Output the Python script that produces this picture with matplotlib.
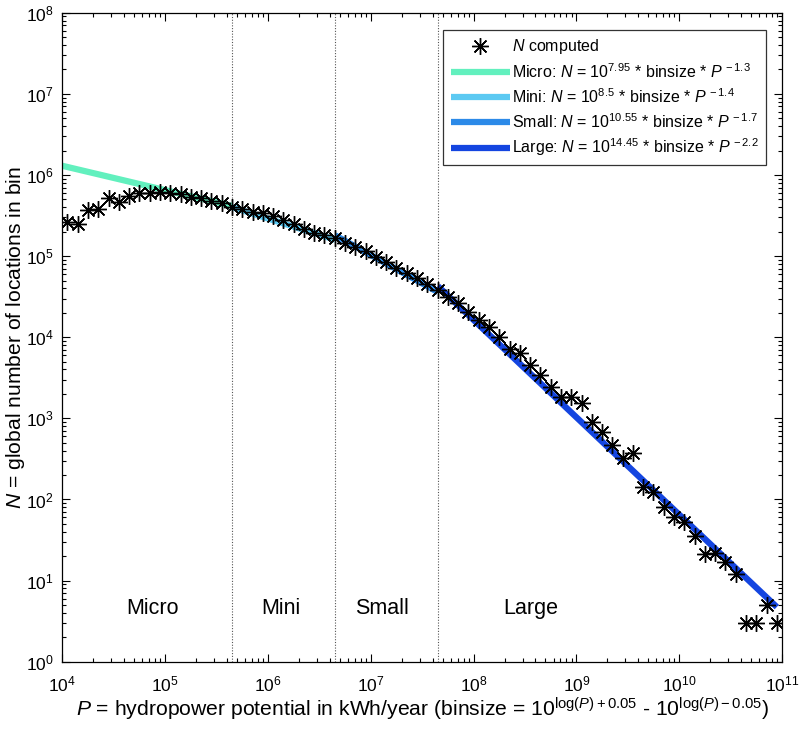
import numpy as np
import matplotlib
matplotlib.use("Agg")
import matplotlib.pyplot as plt
from matplotlib.ticker import LogLocator, NullFormatter

plt.rcParams['font.family'] = ['Liberation Sans', 'DejaVu Sans']
plt.rcParams['mathtext.fontset'] = 'custom'
plt.rcParams['mathtext.rm'] = 'Liberation Sans'
plt.rcParams['mathtext.it'] = 'Liberation Sans:italic'
plt.rcParams['mathtext.bf'] = 'Liberation Sans:bold'

# ---- data ----
logP = [4.05, 4.15, 4.25, 4.35, 4.45, 4.55, 4.65, 4.75, 4.85, 4.95,
        5.05, 5.15, 5.25, 5.35, 5.45, 5.55, 5.65, 5.75, 5.85, 5.95,
        6.05, 6.15, 6.25, 6.35, 6.45, 6.55, 6.65, 6.75, 6.85, 6.95,
        7.05, 7.15, 7.25, 7.35, 7.45, 7.55, 7.65, 7.75, 7.85, 7.95,
        8.05, 8.15, 8.25, 8.35, 8.45, 8.55, 8.65, 8.75, 8.85, 8.95,
        9.05, 9.15, 9.25, 9.35, 9.45, 9.55, 9.65, 9.75, 9.85, 9.95,
        10.05, 10.15, 10.25, 10.35, 10.45, 10.55, 10.65, 10.75, 10.85, 10.95]
N_computed = [263000, 251000, 372000, 376000, 525000, 468000, 550000, 603000, 596000, 617000,
              603000, 582000, 537000, 513000, 479000, 447000, 407000, 385000, 352000, 335000,
              309000, 282000, 251000, 214000, 195000, 182000, 166000, 144000, 130000, 114000,
              98000, 85000, 71600, 62400, 53100, 45700, 38000, 31600, 26300, 20400,
              16200, 13500, 10100, 7240, 6310, 4530, 3410, 2450, 1840, 1840,
              1530, 906, 682, 468, 320, 369, 143, 124, 81, 61,
              53, 35, 21, 22, 17, 12, 3, 3, 5, 3]

# fitted power laws: N = 10^a * binsize * P^b
fit_names = ['Micro', 'Mini', 'Small', 'Large']
fit_a = [7.95, 8.5, 10.55, 14.45]
fit_b = [-1.3, -1.4, -1.7, -2.2]
fit_a_txt = ['7.95', '8.5', '10.55', '14.45']
fit_b_txt = ['-1.3', '-1.4', '-1.7', '-2.2']
fit_ranges = [(1e4, 4.5e5), (4.5e5, 4.5e6), (4.5e6, 4.5e7), (4.5e7, 8.9e10)]
fit_colors = ['#62F0BE', '#5CC9F2', '#2C8AE8', '#1445E0']

class_bounds = [4.5e5, 4.5e6, 4.5e7]
class_labels = ['Micro', 'Mini', 'Small', 'Large']
class_label_x = [7.6e4, 1.35e6, 1.3e7, 3.6e8]

fig = plt.figure(figsize=(8.0, 7.31), dpi=100)
ax = fig.add_axes([0.0779, 0.0948, 0.8996, 0.8878])

P = 10 ** np.array(logP)

lines = []
for name, a, b, at, bt, (p0, p1), c in zip(fit_names, fit_a, fit_b, fit_a_txt, fit_b_txt, fit_ranges, fit_colors):
    pp = np.logspace(np.log10(p0), np.log10(p1), 100)
    binsize = 10 ** (np.log10(pp) + 0.05) - 10 ** (np.log10(pp) - 0.05)
    nn = 10 ** a * binsize * pp ** b
    lab = name + r': $\mathit{N}$ = 10$^{' + at + r'}$ * binsize * $\mathit{P}^{\,' + bt + r'}$'
    ln, = ax.plot(pp, nn, color=c, lw=4.5, solid_capstyle='butt', label=lab, zorder=2)
    lines.append(ln)

sc, = ax.plot(P, N_computed, linestyle='none', marker=(8, 2, 0), markersize=12,
              markeredgewidth=1.0, color='black', label=r'$\mathit{N}$ computed', zorder=3)

for xb in class_bounds:
    ax.axvline(xb, color='#555555', lw=0.8, ls=(0, (1, 1.5)), zorder=1)

for t, xx in zip(class_labels, class_label_x):
    ax.text(xx, 4.5, t, ha='center', va='center', fontsize=15.5)

ax.set_xscale('log')
ax.set_yscale('log')
ax.set_xlim(1e4, 1e11)
ax.set_ylim(1e0, 1e8)

ax.xaxis.set_major_locator(LogLocator(base=10, numticks=20))
ax.yaxis.set_major_locator(LogLocator(base=10, numticks=20))
ax.xaxis.set_minor_locator(LogLocator(base=10, subs=np.arange(2, 10), numticks=50))
ax.yaxis.set_minor_locator(LogLocator(base=10, subs=np.arange(2, 10), numticks=50))
ax.xaxis.set_minor_formatter(NullFormatter())
ax.yaxis.set_minor_formatter(NullFormatter())
ax.tick_params(which='both', direction='in', top=True, right=True, labelsize=12.5, width=0.8)
ax.tick_params(which='major', length=6)
ax.tick_params(which='minor', length=3)
ax.tick_params(axis='x', pad=9)
ax.tick_params(axis='y', pad=6)
for s in ax.spines.values():
    s.set_linewidth(0.9)

ax.set_xlabel(r'$\mathit{P}$ = hydropower potential in kWh/year (binsize = 10$^{\mathrm{log(}\mathit{P}\mathrm{)+0.05}}$ - 10$^{\mathrm{log(}\mathit{P}\mathrm{)-0.05}}$)',
              fontsize=15.2, labelpad=1.5)
ax.set_ylabel(r'$\mathit{N}$ = global number of locations in bin', fontsize=15.2)
ax.yaxis.set_label_coords(-0.049, 0.5)

leg = ax.legend(handles=[sc] + lines, loc='upper right', bbox_to_anchor=(0.9778, 0.9733),
                borderaxespad=0, fontsize=11.5, frameon=True, fancybox=False, edgecolor='black',
                handlelength=3.7, handletextpad=0.15, borderpad=0.45, labelspacing=0.38)
leg.get_frame().set_linewidth(0.9)

fig.savefig('out.png', dpi=100)
